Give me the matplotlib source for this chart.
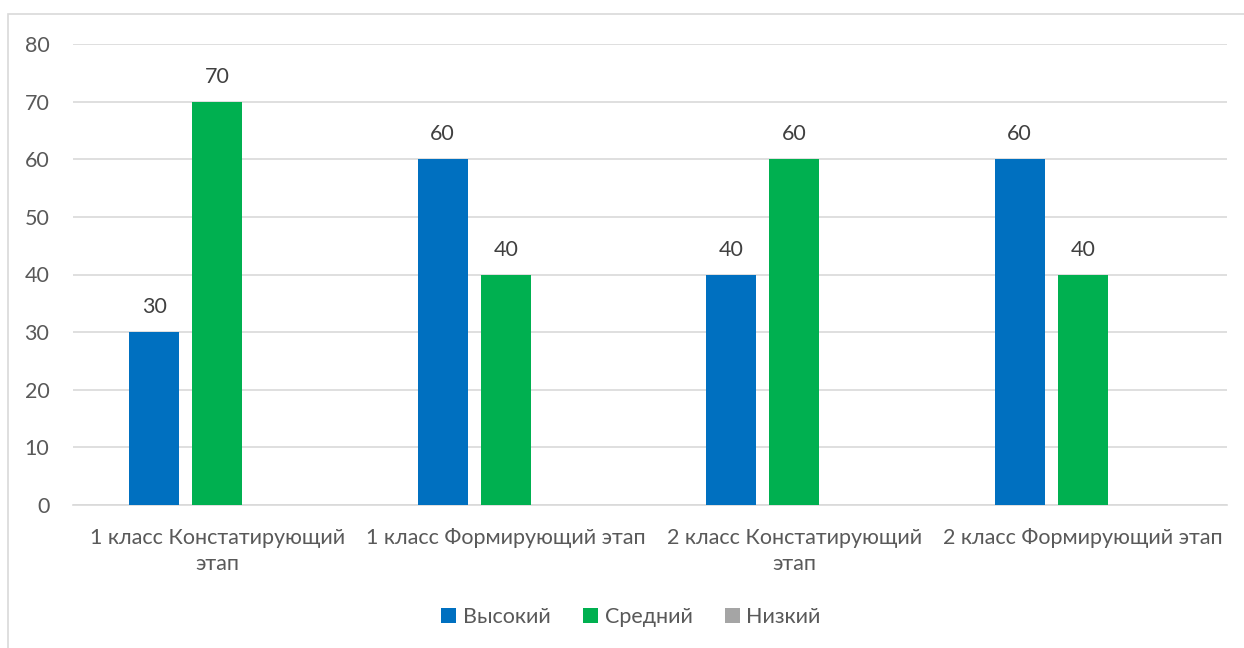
import matplotlib.pyplot as plt
import numpy as np
from matplotlib.patches import Rectangle

plt.rcParams['font.family'] = ['Lato', 'DejaVu Sans']

categories = ["1 класс Констатирующий\nэтап", "1 класс Формирующий этап",
              "2 класс Констатирующий\nэтап", "2 класс Формирующий этап"]
series_names = ["Высокий", "Средний", "Низкий"]
high = [30, 60, 40, 60]
medium = [70, 40, 60, 40]
low = [0, 0, 0, 0]
yticks = [0, 10, 20, 30, 40, 50, 60, 70, 80]

colors = ["#0070C0", "#00B050", "#A5A5A5"]
text_color = "#595959"
fs = 15.5

W, H = 1244, 648
fig = plt.figure(figsize=(W / 100, H / 100), dpi=100)
fig.patch.set_facecolor("white")

# chart frame
fig.add_artist(Rectangle((8 / W, -0.1), 1.2, (H - 14) / H + 0.1, transform=fig.transFigure,
                         fill=False, edgecolor="#D9D9D9", linewidth=1.2))

left, right = 73 / W, 1227 / W
bottom, top = 1 - 505 / H, 1 - 44 / H
ax = fig.add_axes([left, bottom, right - left, top - bottom])

x = np.arange(len(categories))
bw = 0.1733
step = 0.2184
for i, (vals, name, c) in enumerate(zip([high, medium, low], series_names, colors)):
    pos = x + (i - 1) * step
    ax.bar(pos, vals, width=bw, color=c, label=name, zorder=3)
    if name != "Низкий":
        for p, v in zip(pos, vals):
            ax.text(p, v + 2.6, f"{v}", ha="center", va="bottom", fontsize=fs, color="#404040")

ax.set_xlim(-0.5, len(categories) - 0.5)
ax.set_ylim(0, 80)
ax.set_yticks(yticks)
ax.yaxis.grid(True, color="#D9D9D9", linewidth=1.2, zorder=0)
ax.set_axisbelow(True)
for s in ["top", "right", "left"]:
    ax.spines[s].set_visible(False)
ax.spines["bottom"].set_color("#D9D9D9")
ax.spines["bottom"].set_linewidth(1.2)
ax.tick_params(axis="both", length=0, labelsize=fs, labelcolor=text_color)
ax.tick_params(axis="y", pad=17)
ax.tick_params(axis="x", pad=16.5)
ax.set_xticks(x)
ax.set_xticklabels(categories, linespacing=1.4)

leg = fig.legend(*ax.get_legend_handles_labels(), loc="center", bbox_to_anchor=(631 / W, 1 - 617 / H),
                 ncol=3, frameon=False, fontsize=fs, handlelength=0.7, handleheight=0.7,
                 handletextpad=0.3, columnspacing=1.5)
for t in leg.get_texts():
    t.set_color(text_color)

fig.savefig("out.png", dpi=100, facecolor="white")
